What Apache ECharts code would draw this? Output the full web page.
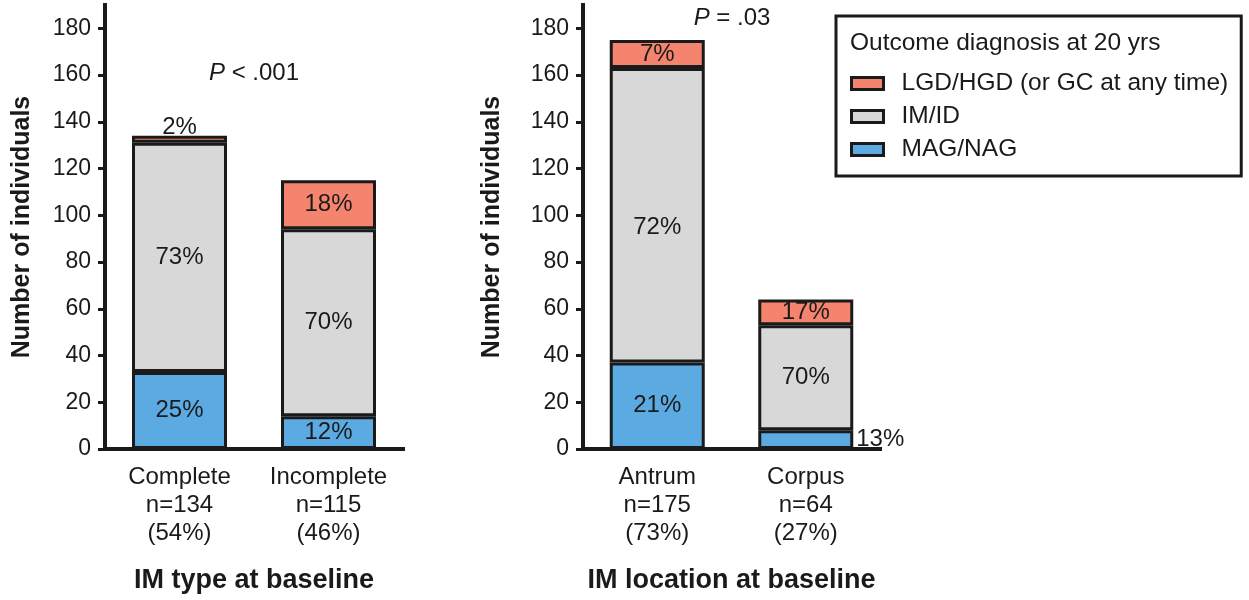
<!DOCTYPE html>
<html>
<head>
<meta charset="utf-8">
<script src="https://cdn.jsdelivr.net/npm/echarts@6/dist/echarts.min.js"></script>
<style>
  html, body { margin: 0; padding: 0; background: #fff; }
  #chart { width: 1249px; height: 600px; }
</style>
</head>
<body>
<div id="chart"></div>
<script>
// data
var typeCategories = ['Complete\nn=134\n(54%)', 'Incomplete\nn=115\n(46%)'];
var locCategories = ['Antrum\nn=175\n(73%)', 'Corpus\nn=64\n(27%)'];

var typeMag = [33, 14];
var typeIm = [98, 80];
var typeLgd = [3, 21];
var typeMagPct = ['25%', '12%'];
var typeImPct = ['73%', '70%'];
var typeLgdPct = ['2%', '18%'];

var locMag = [37, 8];
var locIm = [126, 45];
var locLgd = [12, 11];
var locMagPct = ['21%', '13%'];
var locImPct = ['72%', '70%'];
var locLgdPct = ['7%', '17%'];

var yTicks = [0, 20, 40, 60, 80, 100, 120, 140, 160, 180];

var FONT = 'Liberation Sans, Arial, Helvetica, sans-serif';
var INK = '#1a1a1a';
var RED = '#F5846E';
var GRAY = '#D8D8D8';
var BLUE = '#5BAAE2';

var NAME_LGD = 'LGD/HGD (or GC at any time)';
var NAME_IM = 'IM/ID';
var NAME_MAG = 'MAG/NAG';

var myChart = echarts.init(document.getElementById('chart'), null, { renderer: 'canvas' });

function xAxisFor(idx, cats, title) {
  return {
    type: 'category',
    gridIndex: idx,
    data: cats,
    axisLine: { lineStyle: { color: INK, width: 4, cap: 'square' } },
    axisTick: { show: false },
    axisLabel: { interval: 0, hideOverlap: false, fontFamily: FONT, fontSize: 24, lineHeight: 28, color: INK, margin: 14 },
    name: title,
    nameLocation: 'middle',
    nameGap: 118,
    nameTextStyle: { fontFamily: FONT, fontSize: 27, fontWeight: 'bold', color: INK }
  };
}

function yAxisFor(idx, gap) {
  return {
    type: 'value',
    gridIndex: idx,
    min: 0,
    max: 190,
    axisLine: { show: true, lineStyle: { color: INK, width: 4, cap: 'square' } },
    axisTick: { show: true, length: 7, lineStyle: { color: INK, width: 3 }, customValues: yTicks },
    axisLabel: { fontFamily: FONT, fontSize: 23, color: INK, margin: 14, customValues: yTicks },
    splitLine: { show: false },
    name: 'Number of individuals',
    nameLocation: 'middle',
    nameGap: gap,
    nameTextStyle: { fontFamily: FONT, fontSize: 25, fontWeight: 'bold', color: INK }
  };
}

// one stacked segment series; labels come from the pct arrays
function seg(name, idx, values, pcts, color, stack, extra) {
  return {
    name: name,
    type: 'bar',
    xAxisIndex: idx,
    yAxisIndex: idx,
    stack: stack,
    barWidth: 95,
    itemStyle: { color: color, borderColor: INK, borderWidth: 3 },
    label: {
      show: true,
      position: 'inside',
      fontFamily: FONT,
      fontSize: 24,
      color: INK,
      formatter: function (p) { return pcts[p.dataIndex]; }
    },
    data: values.map(function (v, i) {
      var d = { value: v };
      if (extra && extra[i]) d.label = extra[i];
      return d;
    })
  };
}

var option = {
  animation: false,
  backgroundColor: '#fff',
  title: [
    {
      text: '{i|P} < .001', left: 254, top: 61, textAlign: 'center', padding: 0,
      textStyle: { fontFamily: FONT, fontSize: 24, fontWeight: 'normal', color: INK,
        rich: { i: { fontFamily: FONT, fontSize: 24, fontStyle: 'italic', color: INK } } }
    },
    {
      text: '{i|P} = .03', left: 732, top: 6, textAlign: 'center', padding: 0,
      textStyle: { fontFamily: FONT, fontSize: 24, fontWeight: 'normal', color: INK,
        rich: { i: { fontFamily: FONT, fontSize: 24, fontStyle: 'italic', color: INK } } }
    },
    {
      text: 'Outcome diagnosis at 20 yrs', left: 850, top: 31, padding: 0,
      textStyle: { fontFamily: FONT, fontSize: 24.5, fontWeight: 'normal', color: INK }
    }
  ],
  legend: {
    orient: 'vertical',
    left: 836,
    top: 16,
    padding: [55, 13, 14, 14],
    borderColor: INK,
    borderWidth: 3,
    itemWidth: 32,
    itemHeight: 12,
    itemGap: 8,
    icon: 'rect',
    itemStyle: { borderColor: INK, borderWidth: 3 },
    data: [NAME_LGD, NAME_IM, NAME_MAG],
    textStyle: { fontFamily: FONT, fontSize: 24.5, lineHeight: 24, color: INK, padding: [0, 0, 0, 13] }
  },
  grid: [
    { left: 105, top: 5, width: 298, height: 444 },
    { left: 583, top: 5, width: 297, height: 444 }
  ],
  xAxis: [
    xAxisFor(0, typeCategories, 'IM type at baseline'),
    xAxisFor(1, locCategories, 'IM location at baseline')
  ],
  yAxis: [yAxisFor(0, 70), yAxisFor(1, 78)],
  series: [
    seg(NAME_MAG, 0, typeMag, typeMagPct, BLUE, 'a'),
    seg(NAME_IM, 0, typeIm, typeImPct, GRAY, 'a'),
    seg(NAME_LGD, 0, typeLgd, typeLgdPct, RED, 'a', [{ position: 'top', distance: -4 }]),
    seg(NAME_MAG, 1, locMag, locMagPct, BLUE, 'b', [null, { position: 'right', distance: 3 }]),
    seg(NAME_IM, 1, locIm, locImPct, GRAY, 'b', [{ offset: [0, 12] }]),
    seg(NAME_LGD, 1, locLgd, locLgdPct, RED, 'b')
  ]
};

myChart.setOption(option);
</script>
</body>
</html>
